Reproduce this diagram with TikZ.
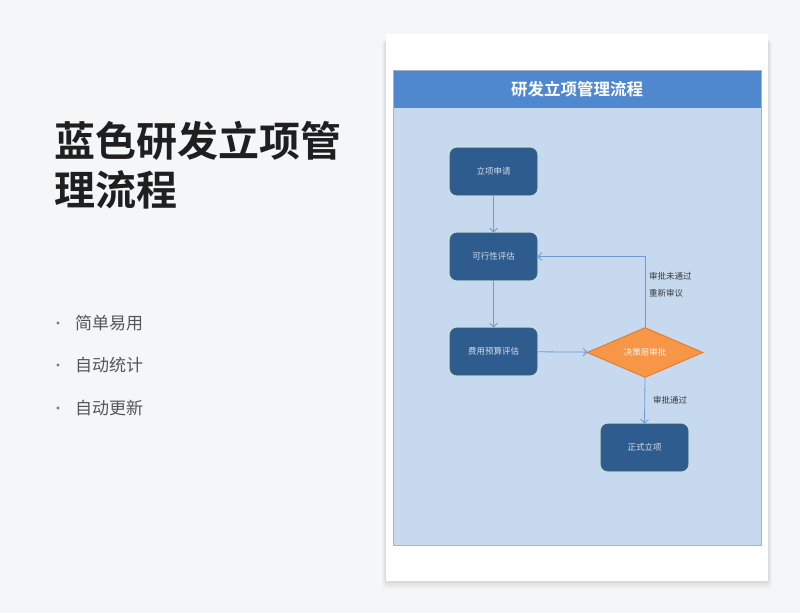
\documentclass[tikz,border=0pt]{standalone}
\usepackage{fontspec}
\newfontfamily\cjk{Noto Sans CJK SC}
\newfontfamily\cjkb{Noto Sans CJK SC Bold}
\usetikzlibrary{shapes.geometric,arrows.meta}
\definecolor{pagebg}{HTML}{F5F6F8}
\definecolor{headblue}{HTML}{4F88CF}
\definecolor{panelblue}{HTML}{C6D9EF}
\definecolor{panelline}{HTML}{9FB3CB}
\definecolor{boxblue}{HTML}{2F5C8F}
\definecolor{boxline}{HTML}{3E6B4E}
\definecolor{boxtext}{HTML}{D5DEEA}
\definecolor{orangefill}{HTML}{F79646}
\definecolor{orangeline}{HTML}{E0782A}
\definecolor{arrowblue}{HTML}{6F9BD3}
\definecolor{labeltext}{HTML}{3A3A3A}
\definecolor{bullettext}{HTML}{555555}
\tikzset{
  procbox/.style={draw=boxline!60!boxblue, line width=0.8pt, fill=boxblue, rounded corners=7pt,
    minimum width=87pt, minimum height=47pt, text=boxtext, font=\cjk\fontsize{8.5}{10}\selectfont},
  decision/.style={diamond, aspect=2.3, draw=orangeline, line width=0.8pt, fill=orangefill,
    minimum width=116pt, minimum height=50pt, inner sep=0pt, text=white!90!orangefill, font=\cjk\fontsize{8.5}{10}\selectfont},
  flow/.style={draw=arrowblue, line width=0.8pt, -{Straight Barb[length=4pt,width=8pt]}},
  flowlabel/.style={text=labeltext, font=\cjk\fontsize{8.5}{10}\selectfont, anchor=west, inner sep=0pt},
  bullet/.style={text=bullettext, font=\cjk\fontsize{17}{20}\selectfont, anchor=west, inner sep=0pt},
  bulletdot/.style={circle, fill=bullettext!80, inner sep=0pt, minimum size=3.4pt},
}
\begin{document}
\begin{tikzpicture}[x=1pt,y=-1pt]
\useasboundingbox (0,0) rectangle (800,613);
\fill[pagebg] (0,0) rectangle (800,613);
% card shadow
\foreach \d/\o in {8/0.02,6/0.025,4/0.03,2/0.035}{
  \fill[black,opacity=\o, rounded corners=4pt] (386-\d/2,40) rectangle (768+\d/2,581+\d);
}
\fill[white] (386,34) rectangle (768,581);
% panel
\fill[panelblue] (393,108) rectangle (761,545);
\fill[headblue] (393,70) rectangle (761,108);
\draw[panelline, line width=0.8pt] (393,70) rectangle (761,545);
\node (title) at (577,89) {\cjkb\fontsize{16.5}{20}\selectfont\color{white}研发立项管理流程};
% left text
\node[anchor=north west, inner sep=0pt, align=left, text=black!88,
  font=\cjkb\fontsize{41}{49}\selectfont] (head) at (54,121) {蓝色研发立项管\\理流程};
\node[bulletdot] (d1) at (58,323) {};
\node[bullet] (b1) at (75,323) {简单易用};
\node[bulletdot] (d2) at (58,365) {};
\node[bullet] (b2) at (75,365) {自动统计};
\node[bulletdot] (d3) at (58,408) {};
\node[bullet] (b3) at (75,408) {自动更新};
% flow nodes
\node[procbox] (n1) at (493.5,171.5) {立项申请};
\node[procbox] (n2) at (493.5,256.5) {可行性评估};
\node[procbox] (n3) at (493.5,351.5) {费用预算评估};
\node[decision] (n4) at (645,352.5) {决策层审批};
\node[procbox] (n5) at (644.5,447.5) {正式立项};
\coordinate (corner) at (n4.north |- n2.east);
\draw[flow] (n1) -- (n2);
\draw[flow] (n2) -- (n3);
\draw[flow] (n3) -- (n4);
\draw[flow] (n4.north) -- (corner) -- (n2.east);
\draw[flow] (n4.south) -- (n5.north);
\node[flowlabel] (l1) at (649,276) {审批未通过};
\node[flowlabel] (l2) at (649,293) {重新审议};
\node[flowlabel] (l3) at (653,400) {审批通过};
\end{tikzpicture}
\end{document}
